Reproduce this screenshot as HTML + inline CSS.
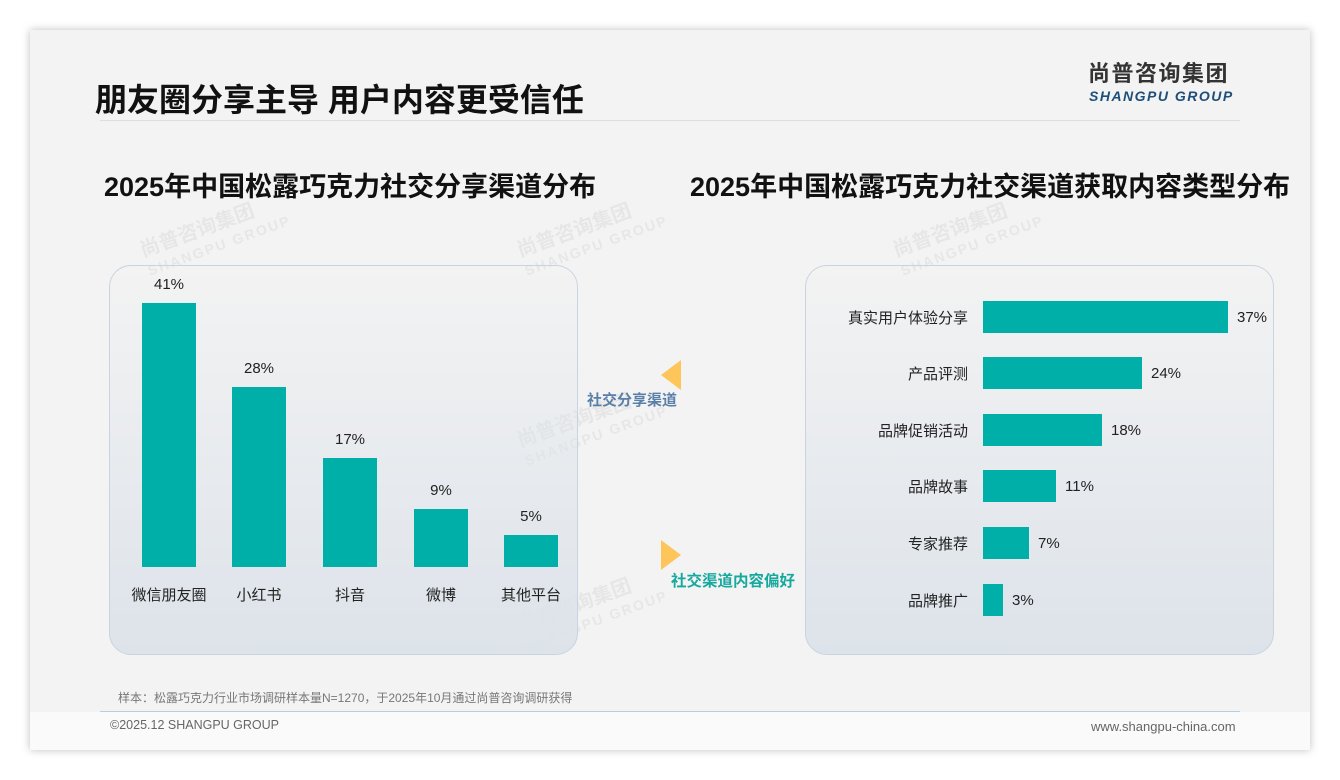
<!DOCTYPE html>
<html><head><meta charset="utf-8"><style>
*{margin:0;padding:0;box-sizing:border-box}
body{width:1340px;height:780px;background:#fff;position:relative;overflow:hidden;font-family:"Liberation Sans","Noto Sans CJK SC",sans-serif}
.slide{position:absolute;left:30px;top:30px;width:1280px;height:720px;background:#f3f3f3;box-shadow:0 0 8px rgba(0,0,0,.25)}
.a{position:absolute;white-space:nowrap}
.panel{position:absolute;border:1.5px solid #c9d4e0;border-radius:22px;background:linear-gradient(180deg,rgba(243,243,243,0) 0%,#dde3ea 100%)}
.bar{position:absolute;background:#00b0a8}
.lab{position:absolute;font-size:15px;color:#222;text-align:center}
.rl{position:absolute;font-size:15px;color:#222;text-align:right;width:180px}
.wm{position:absolute;color:rgba(0,0,0,.05);font-weight:bold;transform:rotate(-20deg);font-size:20px;line-height:20px}
</style></head><body>
<div class="slide"></div>
<div class="a" style="left:30px;top:712px;width:1280px;height:38px;background:#fafafa"></div>
<div class="a" style="left:95px;top:75px;font-size:32px;font-weight:bold;color:#111">朋友圈分享主导 用户内容更受信任</div>
<div class="a" style="left:1088px;top:60px;font-size:22px;line-height:28px;font-weight:bold;color:#333;letter-spacing:1.5px">尚普咨询集团</div>
<div class="a" style="left:1089px;top:87px;font-size:14px;line-height:18px;font-weight:bold;font-style:italic;color:#1e4e7a;letter-spacing:1.5px">SHANGPU GROUP</div>
<div class="a" style="left:100px;top:120px;width:1140px;height:1px;background:#ddd"></div>
<div class="a" style="left:104px;top:165px;font-size:27px;font-weight:bold;color:#111">2025年中国松露巧克力社交分享渠道分布</div>
<div class="a" style="left:690px;top:165px;font-size:27px;font-weight:bold;color:#111">2025年中国松露巧克力社交渠道获取内容类型分布</div>
<div class="wm" style="left:140px;top:215px">尚普咨询集团<br><span style="font-size:14px;letter-spacing:2px">SHANGPU GROUP</span></div>
<div class="wm" style="left:517px;top:215px">尚普咨询集团<br><span style="font-size:14px;letter-spacing:2px">SHANGPU GROUP</span></div>
<div class="wm" style="left:893px;top:215px">尚普咨询集团<br><span style="font-size:14px;letter-spacing:2px">SHANGPU GROUP</span></div>
<div class="wm" style="left:517px;top:405px">尚普咨询集团<br><span style="font-size:14px;letter-spacing:2px">SHANGPU GROUP</span></div>
<div class="wm" style="left:517px;top:590px">尚普咨询集团<br><span style="font-size:14px;letter-spacing:2px">SHANGPU GROUP</span></div>
<div class="panel" style="left:109px;top:265px;width:469px;height:390px"></div>
<div class="panel" style="left:805px;top:265px;width:469px;height:390px"></div>
<div class="bar" style="left:142px;top:303px;width:54px;height:264px"></div>
<div class="bar" style="left:232px;top:387px;width:54px;height:180px"></div>
<div class="bar" style="left:323px;top:458px;width:54px;height:109px"></div>
<div class="bar" style="left:414px;top:509px;width:54px;height:58px"></div>
<div class="bar" style="left:504px;top:535px;width:54px;height:32px"></div>
<div class="lab" style="left:129px;top:276px;width:80px">41%</div>
<div class="lab" style="left:219px;top:360px;width:80px">28%</div>
<div class="lab" style="left:310px;top:431px;width:80px">17%</div>
<div class="lab" style="left:401px;top:482px;width:80px">9%</div>
<div class="lab" style="left:491px;top:508px;width:80px">5%</div>
<div class="lab" style="left:119px;top:584px;width:100px">微信朋友圈</div>
<div class="lab" style="left:209px;top:584px;width:100px">小红书</div>
<div class="lab" style="left:300px;top:584px;width:100px">抖音</div>
<div class="lab" style="left:391px;top:584px;width:100px">微博</div>
<div class="lab" style="left:481px;top:584px;width:100px">其他平台</div>
<svg class="a" style="left:660px;top:360px" width="22" height="30"><polygon points="21,0 21,30 1,15" fill="#fdc55a"/></svg>
<div class="a" style="left:587px;top:389px;font-size:15px;font-weight:bold;color:#5a7fa8">社交分享渠道</div>
<svg class="a" style="left:660px;top:540px" width="22" height="30"><polygon points="1,0 1,30 21,15" fill="#fdc55a"/></svg>
<div class="a" style="left:671px;top:569px;font-size:15.5px;font-weight:bold;color:#17a89e">社交渠道内容偏好</div>
<div class="bar" style="left:983px;top:301px;width:245px;height:32px"></div>
<div class="bar" style="left:983px;top:357px;width:159px;height:32px"></div>
<div class="bar" style="left:983px;top:414px;width:119px;height:32px"></div>
<div class="bar" style="left:983px;top:470px;width:73px;height:32px"></div>
<div class="bar" style="left:983px;top:527px;width:46px;height:32px"></div>
<div class="bar" style="left:983px;top:584px;width:20px;height:32px"></div>
<div class="rl" style="left:788px;top:307px">真实用户体验分享</div>
<div class="rl" style="left:788px;top:363px">产品评测</div>
<div class="rl" style="left:788px;top:420px">品牌促销活动</div>
<div class="rl" style="left:788px;top:476px">品牌故事</div>
<div class="rl" style="left:788px;top:533px">专家推荐</div>
<div class="rl" style="left:788px;top:590px">品牌推广</div>
<div class="lab" style="left:1237px;top:309px;text-align:left">37%</div>
<div class="lab" style="left:1151px;top:365px;text-align:left">24%</div>
<div class="lab" style="left:1111px;top:422px;text-align:left">18%</div>
<div class="lab" style="left:1065px;top:478px;text-align:left">11%</div>
<div class="lab" style="left:1038px;top:535px;text-align:left">7%</div>
<div class="lab" style="left:1012px;top:592px;text-align:left">3%</div>
<div class="a" style="left:118px;top:689px;font-size:12px;color:#777">样本：松露巧克力行业市场调研样本量N=1270，于2025年10月通过尚普咨询调研获得</div>
<div class="a" style="left:100px;top:711px;width:1140px;height:1px;background:#b9cde0"></div>
<div class="a" style="left:110px;top:718px;font-size:12.5px;color:#666">©2025.12 SHANGPU GROUP</div>
<div class="a" style="left:1091px;top:719px;font-size:13px;color:#666">www.shangpu-china.com</div>
</body></html>
